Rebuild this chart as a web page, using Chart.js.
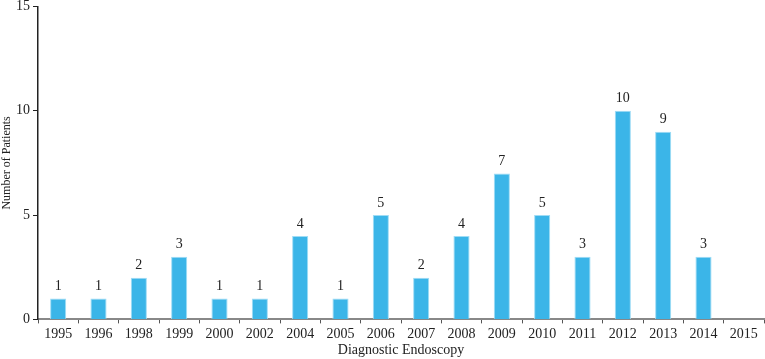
<!DOCTYPE html>
<html>
<head>
<meta charset="utf-8">
<script src="https://cdn.jsdelivr.net/npm/chart.js@4"></script>
<style>
  body { margin: 0; background: #fff; }
  #wrap { width: 765px; height: 359px; }
</style>
</head>
<body>
<div id="wrap"><canvas id="myChart"></canvas></div>
<script>
// data
const years = ['1995', '1996', '1998', '1999', '2000', '2002', '2004', '2005', '2006',
  '2007', '2008', '2009', '2010', '2011', '2012', '2013', '2014', '2015'];
const patients = [1, 1, 2, 3, 1, 1, 4, 1, 5, 2, 4, 7, 5, 3, 10, 9, 3, null];
const yTicks = [0, 5, 10, 15];

const serif = '"Liberation Serif", "DejaVu Serif", serif';

// numbers above the bars
const barLabels = {
  id: 'barLabels',
  afterDatasetsDraw(chart) {
    const ctx = chart.ctx;
    const meta = chart.getDatasetMeta(0);
    ctx.save();
    ctx.font = '14px ' + serif;
    ctx.fillStyle = '#222';
    ctx.textAlign = 'center';
    ctx.textBaseline = 'bottom';
    meta.data.forEach((bar, i) => {
      if (patients[i] == null) return;
      ctx.fillText(patients[i], bar.x, bar.y - 5);
    });
    ctx.restore();
  }
};

const myChart = document.getElementById('myChart');

let barChart = new Chart(myChart, {
  type: 'bar',
  data: {
    labels: years,
    datasets: [{
      label: 'Number of Patients',
      data: patients,
      backgroundColor: '#3bb5e8',
      borderColor: '#9fdcf5',
      borderWidth: 1,
      barPercentage: 0.4,
      categoryPercentage: 1
    }]
  },
  options: {
    responsive: true,
    maintainAspectRatio: false,
    animation: false,
    layout: { padding: { top: 0, right: 1, bottom: 0, left: 0 } },
    plugins: {
      legend: { display: false },
      tooltip: { enabled: false }
    },
    scales: {
      x: {
        offset: true,
        grid: {
          display: true,
          drawOnChartArea: false,
          offset: true,
          tickLength: 4,
          color: '#555'
        },
        border: { color: '#888', width: 2 },
        ticks: {
          color: '#222',
          font: { family: serif, size: 14 },
          padding: 3,
          maxRotation: 0,
          autoSkip: false
        },
        title: {
          display: true,
          text: 'Diagnostic Endoscopy',
          color: '#222',
          font: { family: serif, size: 14 },
          padding: { top: -4, bottom: 0 }
        }
      },
      y: {
        min: 0,
        max: 15,
        afterBuildTicks(axis) {
          axis.ticks = yTicks.map(v => ({ value: v }));
        },
        afterFit(axis) {
          axis.width = 38;
        },
        grid: {
          display: true,
          drawOnChartArea: false,
          tickLength: 5,
          color: '#222'
        },
        border: { color: '#222', width: 1.5 },
        ticks: {
          color: '#222',
          font: { family: serif, size: 14, lineHeight: 0.5 },
          padding: 3
        },
        title: {
          display: true,
          text: 'Number of Patients',
          color: '#222',
          font: { family: serif, size: 12 },
          padding: { top: 0, bottom: 0 }
        }
      }
    }
  },
  plugins: [barLabels]
});
</script>
</body>
</html>
